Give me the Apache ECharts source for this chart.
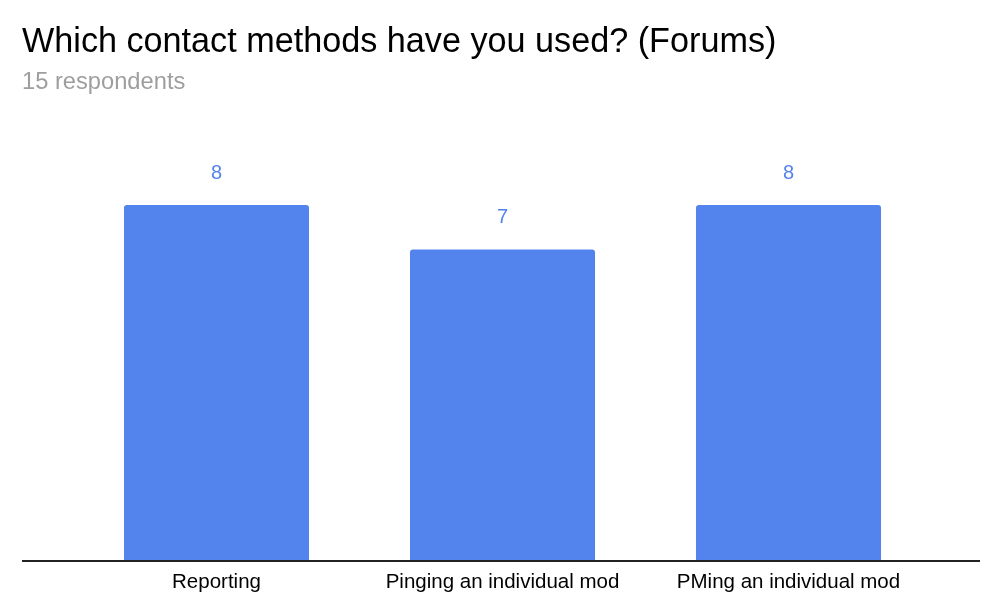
<!DOCTYPE html>
<html>
<head>
<meta charset="utf-8">
<script src="https://cdn.jsdelivr.net/npm/echarts@6/dist/echarts.min.js"></script>
<style>html,body{margin:0;padding:0;background:#fff}#c{width:1000px;height:614px}</style>
</head>
<body>
<div id="c"></div>
<script>
const categories = ['Reporting', 'Pinging an individual mod', 'PMing an individual mod'];
const counts = [8, 7, 8];
const titleText = 'Which contact methods have you used? (Forums)';
const subtitleText = '15 respondents';

const chart = echarts.init(document.getElementById('c'));
chart.setOption({
  animation: false,
  title: {
    text: titleText,
    subtext: subtitleText,
    left: 17, top: 21,
    itemGap: 10,
    textStyle: { fontFamily: 'Liberation Sans, Arial', fontSize: 34.2, fontWeight: 'normal', color: '#000' },
    subtextStyle: { fontFamily: 'Liberation Sans, Arial', fontSize: 23.7, color: '#9e9e9e' }
  },
  grid: { left: 73.5, right: 68.5, top: 205, bottom: 53 },
  xAxis: {
    type: 'category', data: categories,
    axisLine: { show: false }, axisTick: { show: false },
    axisLabel: { interval: 0, fontFamily: 'Liberation Sans, Arial', fontSize: 20.5, color: '#000', margin: 11 }
  },
  yAxis: { type: 'value', min: 0, max: 8, show: false, splitLine: { show: false } },
  graphic: [{
    type: 'line', shape: { x1: 22, y1: 561, x2: 980, y2: 561 },
    style: { stroke: '#222', lineWidth: 2 }, z: 10
  }],
  series: [{
    type: 'bar', data: counts, barWidth: '64.7%',
    itemStyle: { color: '#5383ec', borderRadius: [3, 3, 0, 0] },
    label: { show: true, position: 'top', distance: 22, color: '#5383ec', fontFamily: 'Liberation Sans, Arial', fontSize: 20 }
  }]
});
</script>
</body>
</html>
